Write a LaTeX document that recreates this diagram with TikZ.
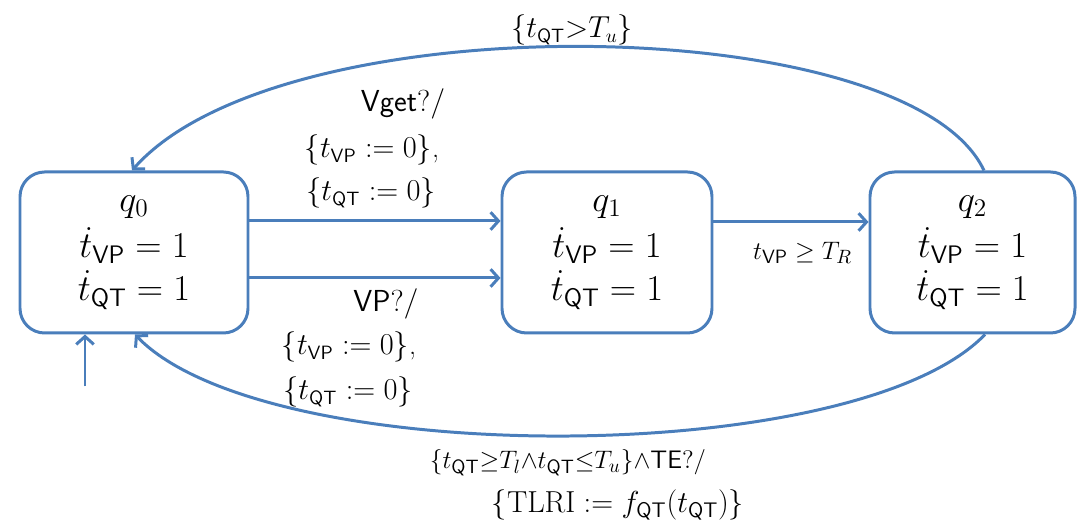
\documentclass[tikz,border=0pt]{standalone}
\usepackage{amsmath}
\usetikzlibrary{arrows.meta, positioning, calc}
\definecolor{edgeblue}{HTML}{4A7EBB}
\newcommand{\tsub}[1]{_{\mathsf{#1}}}

\begin{document}
\begin{tikzpicture}[
  state/.style={draw=edgeblue, line width=1.7pt, rounded corners=14pt, minimum height=3.22cm, align=center, inner sep=0pt, font=\fontsize{21}{24.5}\selectfont},
  trans/.style={edgeblue, line width=1.7pt, -{Straight Barb[length=4.5pt,width=10pt]}},
  lbl/.style={inner sep=0pt, font=\fontsize{16}{19}\selectfont}
]
  \useasboundingbox (0,0) rectangle (21.58,10.46);

  % States
  \node[state, minimum width=4.56cm] (q0) at (2.68,5.41) {$q_0$\\[2pt]$\dot{t}\tsub{VP}=1$\\$\dot{t}\tsub{QT}=1$};
  \node[state, minimum width=4.2cm] (q1) at (12.14,5.41) {$q_1$\\[2pt]$\dot{t}\tsub{VP}=1$\\$\dot{t}\tsub{QT}=1$};
  \node[state, minimum width=4.1cm] (q2) at (19.45,5.41) {$q_2$\\[2pt]$\dot{t}\tsub{VP}=1$\\$\dot{t}\tsub{QT}=1$};

  % Transitions
  \coordinate (init) at ([xshift=-0.98cm,yshift=-1.04cm]q0.south);
  \draw[trans] (init) -- (init |- q0.south);
  \draw[trans] ([yshift=0.63cm]q0.east) -- ([yshift=0.63cm]q1.west);
  \draw[trans] ([yshift=-0.51cm]q0.east) -- ([yshift=-0.51cm]q1.west);
  \draw[trans] ([yshift=0.61cm]q1.east) -- ([yshift=0.61cm]q2.west);
  \draw[trans] ([xshift=0.23cm]q2.north) .. controls +(-1.5,3.2) and +(3.0,3.4) .. ([xshift=-0.04cm]q0.north);
  \draw[trans] ([xshift=0.25cm]q2.south) .. controls +(-2.6,-2.7) and +(2.6,-2.7) .. ([xshift=0.02cm]q0.south);

  % Labels
  \node[lbl] (ltop) at (11.44,9.86) {$\{t\tsub{QT}{>}T_u\}$};
  \node[lbl] (lget) at (8.06,8.38) {$\mathsf{Vget}?/$};
  \node[lbl] (lgetvp) at (7.44,7.46) {$\{t\tsub{VP}:=0\}$,};
  \node[lbl] (lgetqt) at (7.42,6.6) {$\{t\tsub{QT}:=0\}$};
  \node[lbl] (lvp) at (7.72,4.38) {$\mathsf{VP}?/$};
  \node[lbl] (lvpvp) at (6.98,3.52) {$\{t\tsub{VP}:=0\}$,};
  \node[lbl] (lvpqt) at (6.96,2.62) {$\{t\tsub{QT}:=0\}$};
  \node[lbl, font=\fontsize{15}{18}\selectfont] (lguard) at (16.05,5.4) {$t\tsub{VP}\geq T_R$};
  \node[lbl, font=\fontsize{15}{18}\selectfont] (lback) at (11.36,1.2) {$\{t\tsub{QT}{\geq}T_l{\wedge}t\tsub{QT}{\leq}T_u\}{\wedge}\mathsf{TE}?/$};
  \node[lbl, font=\fontsize{18}{21}\selectfont] (lreset) at (12.36,0.36) {$\{\mathrm{TLRI}:=f\tsub{QT}(t\tsub{QT})\}$};
\end{tikzpicture}
\end{document}
